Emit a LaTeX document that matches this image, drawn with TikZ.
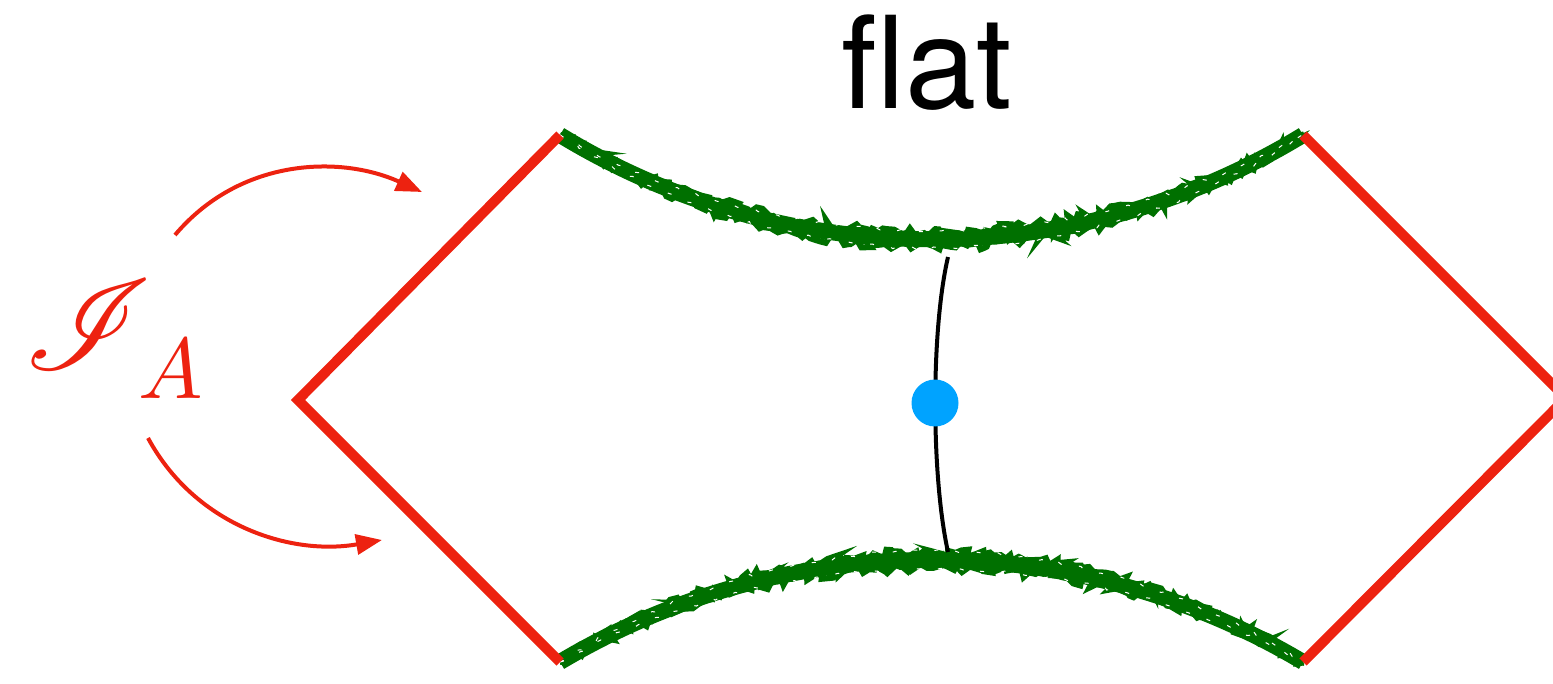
\documentclass[tikz,border=0pt]{standalone}
\usepackage{mathrsfs}
\usepackage{fontspec}
\newfontfamily\heros{TeX Gyre Heros}
\usetikzlibrary{arrows.meta,decorations.pathmorphing}
\definecolor{bred}{RGB}{237,34,16}
\definecolor{bgreen}{RGB}{0,112,0}
\definecolor{bblue}{RGB}{0,163,255}
\tikzset{
  bndry/.style={draw=bred,line width=5pt},
  flow/.style={draw=bred,line width=2pt,-{Triangle[length=13pt,width=10pt]}},
  rough/.style={draw=bgreen,line width=3pt,decorate,decoration={random steps,segment length=2.5pt,amplitude=2.3pt}},
  speck/.style={draw=white,line width=0.5pt,dash pattern=on 2pt off 9pt,decorate,decoration={random steps,segment length=2pt,amplitude=0.8pt}},
  core/.style={draw=bgreen,line width=8pt},
  geod/.style={draw=black,line width=2pt},
  dot/.style={circle,fill=bblue,minimum size=23.5pt,inner sep=0pt},
}
\begin{document}
\begin{tikzpicture}[x=0.5pt,y=-0.5pt]
\clip (0,0) rectangle (1553,684);
\useasboundingbox (0,0) rectangle (1553,684);
% corners
\coordinate (TL) at (560,135);
\coordinate (BL) at (560,662);
\coordinate (TR) at (1303,135);
\coordinate (BR) at (1303,662);
\coordinate (L) at (298,400);
\coordinate (R) at (1566,398);
% green horizons
\pgfmathsetseed{7}
\draw[core] (TL) .. controls (788,274) and (1075,274) .. (TR);
\draw[core] (BL) .. controls (788,526) and (1075,526) .. (BR);
\foreach \o in {-5,0,5}{
  \draw[rough,yshift=\o] (TL) .. controls (788,274) and (1075,274) .. (TR);
  \draw[rough,yshift=\o] (BL) .. controls (788,526) and (1075,526) .. (BR);
}
\foreach \o in {-6,6}{
  \draw[speck,yshift=\o] (TL) .. controls (788,274) and (1075,274) .. (TR);
  \draw[speck,yshift=\o] (BL) .. controls (788,526) and (1075,526) .. (BR);
}
% red boundaries
\draw[bndry] (TL) -- (L) -- (BL);
\draw[bndry] (TR) -- (R) -- (BR);
% geodesic and dot
\coordinate (gt) at (948,257);
\coordinate (gb) at (948,552);
\draw[geod] (gt) .. controls (931,330) and (931,475) .. (gb);
\node[dot] (d) at (935,403) {};
% title
\node[anchor=base,inner sep=0pt] (title) at (927,109) {\heros\fontsize{64}{70}\selectfont flat};
% label
\node[text=bred,inner sep=0pt,scale=6.4] (I) at (89,325) {$\mathscr{I}$};
\node[text=bred,inner sep=0pt,anchor=base west,scale=4.3] (A) at (137,398) {$A$};
% arrows
\coordinate (a1s) at (175,235);
\coordinate (a1e) at (422,192);
\coordinate (a2s) at (148,438);
\coordinate (a2e) at (382,540);
\draw[flow] (a1s) .. controls (240,158) and (340,155) .. (a1e);
\draw[flow] (a2s) .. controls (195,525) and (290,556) .. (a2e);
\end{tikzpicture}
\end{document}
